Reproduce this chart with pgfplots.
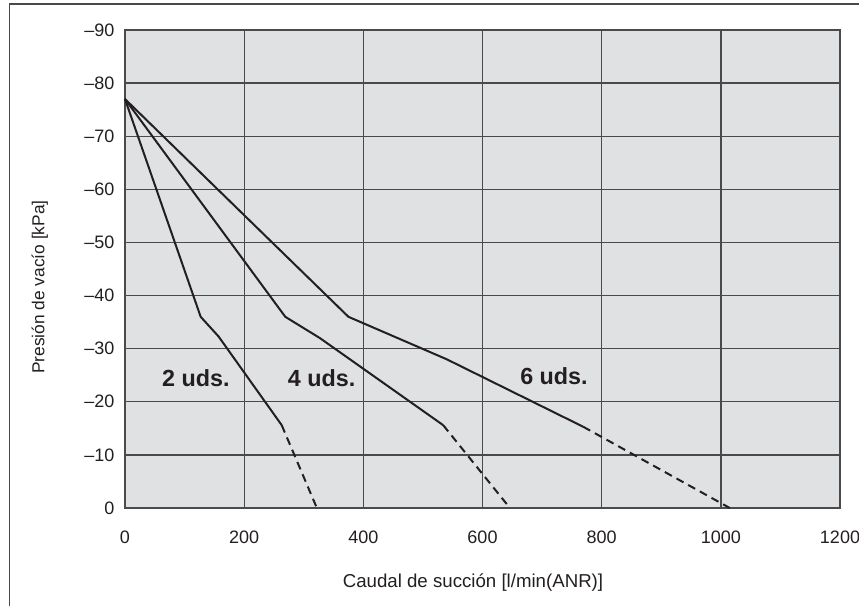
\documentclass[border=0pt]{standalone}
\usepackage{pgfplots}
\pgfplotsset{compat=1.18}
\usepackage{fontspec}
\setmainfont{Liberation Sans}
\definecolor{bgfill}{HTML}{E0E1E3}
\definecolor{gridc}{HTML}{4A4A4A}
\definecolor{curve}{HTML}{231F20}
\begin{document}
\begin{tikzpicture}[x=1pt,y=1pt]
\path[use as bounding box] (0,0) rectangle (644.25,454.5);
\draw[line width=1.1pt,gridc] (7,0) -- (7,451.5) -- (644.25,451.5);
\begin{axis}[
  at={(93.75pt,73.5pt)}, anchor=south west,
  scale only axis, width=536.25pt, height=358.5pt,
  xmin=0, xmax=1200, ymin=-90, ymax=0, y dir=reverse,
  xtick={0,200,...,1200}, ytick={-90,-80,...,0},
  yticklabels={–90,–80,–70,–60,–50,–40,–30,–20,–10,0},
  /pgf/number format/assume math mode=true,
  /pgf/number format/1000 sep={},
  major tick length=0pt,
  grid=major,
  major grid style={gridc, line width=1pt},
  axis line style={gridc, line width=1.1pt},
  axis background/.style={fill=bgfill},
  tick label style={font=\fontsize{13.5}{15}\selectfont, text=curve},
  xticklabel style={yshift=-14pt},
  yticklabel style={xshift=-4.5pt},
  xlabel={Caudal de succión [l/min(ANR)]},
  ylabel={Presión de vacío [kPa]},
  every axis x label/.style={at={(axis description cs:0.298,-0.155)}, anchor=west, font=\fontsize{14}{16}\selectfont, text=curve},
  every axis y label/.style={at={(axis description cs:-0.119,0.462)}, anchor=center, rotate=90, font=\fontsize{13}{15}\selectfont, text=curve},
  clip=false,
]
\addplot[curve, line width=1.5pt] coordinates {(0,-77) (127,-36) (157,-32.3) (263,-15.6)};
\addplot[curve, line width=1.5pt, dash pattern=on 6pt off 4pt] coordinates {(263,-15.6) (322,0)};
\addplot[curve, line width=1.5pt] coordinates {(0,-77) (269,-36) (327,-32) (534,-15.6)};
\addplot[curve, line width=1.5pt, dash pattern=on 6pt off 4pt] coordinates {(534,-15.6) (646,0)};
\addplot[curve, line width=1.5pt] coordinates {(0,-77) (375,-36) (540,-28) (769,-15.3)};
\addplot[curve, line width=1.5pt, dash pattern=on 6pt off 4pt] coordinates {(769,-15.3) (1015,0)};
\node[font=\fontsize{17.5}{19}\bfseries\selectfont, text=curve] at (axis cs:119,-24.5) {2 uds.};
\node[font=\fontsize{17.5}{19}\bfseries\selectfont, text=curve] at (axis cs:330,-24.4) {4 uds.};
\node[font=\fontsize{17.5}{19}\bfseries\selectfont, text=curve] at (axis cs:720,-24.9) {6 uds.};
\end{axis}
\end{tikzpicture}
\end{document}
